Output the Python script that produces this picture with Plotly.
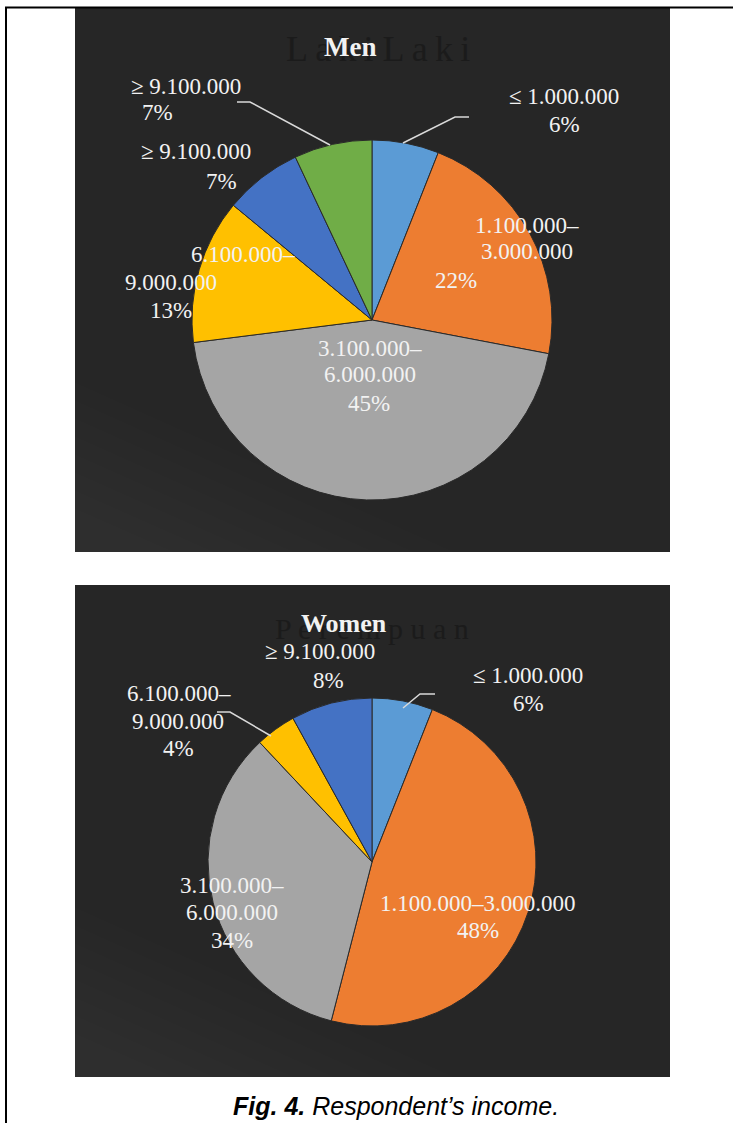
import plotly.graph_objects as go

W, H = 733, 1123

# ---------------- data ----------------
income_men = ["≤ 1.000.000", "1.100.000–3.000.000", "3.100.000–6.000.000",
              "6.100.000–9.000.000", "≥ 9.100.000", "≥ 9.100.000"]
share_men = [6, 22, 45, 13, 7, 7]
colors_men = ["#5B9BD5", "#ED7D31", "#A5A5A5", "#FFC000", "#4472C4", "#70AD47"]

income_women = ["≤ 1.000.000", "1.100.000–3.000.000", "3.100.000–6.000.000",
                "6.100.000–9.000.000", "≥ 9.100.000"]
share_women = [6, 48, 34, 4, 8]
colors_women = ["#5B9BD5", "#ED7D31", "#A5A5A5", "#FFC000", "#4472C4"]

title_men = "Men"
title_women = "Women"
ghost_men = "L\u2009a\u2009k\u2009i L\u2009a\u2009k\u2009i"
ghost_women = "P e r e m p u a n"
caption_bold = "Fig. 4."
caption_rest = "Respondent’s income."

# ---------------- layout helpers (pixel -> paper) ----------------
def fx(x):
    return x / W

def fy(y):
    return 1 - y / H

# label line positions (pixels) per slice; split = break category at the dash
men_label_pos = [
    dict(split=False, pts=[(564, 97), (564, 125)]),
    dict(split=True, pts=[(527, 225), (527, 251), (456, 280)]),
    dict(split=True, pts=[(370, 348), (370, 375), (369, 403)]),
    dict(split=True, pts=[(243, 255), (171, 282), (171, 310)]),
    dict(split=False, pts=[(196, 152), (222, 181)]),
    dict(split=False, pts=[(186, 86), (157, 112)]),
]
women_label_pos = [
    dict(split=False, pts=[(528, 675), (528, 703)]),
    dict(split=False, pts=[(478, 903), (478, 930)]),
    dict(split=True, pts=[(232, 885), (232, 912), (232, 940)]),
    dict(split=True, pts=[(179, 693), (178, 721), (178, 748)]),
    dict(split=False, pts=[(320, 651), (328, 680)]),
]

leaders = [
    [(237, 102), (250, 102), (330, 145)],
    [(469, 117), (455, 117), (403, 143)],
    [(435, 694), (420, 694), (403, 708)],
    [(217, 712), (230, 712), (271, 736)],
]

LABEL_FONT = dict(family="Liberation Serif, Times New Roman, serif", size=23, color="#F2F2F2")

fig = go.Figure()

def add_pie(values, cats, colors, cx, cy, r, name):
    fig.add_trace(go.Pie(
        labels=[f"{name}-{i}" for i in range(len(values))],
        values=values,
        hovertext=cats,
        hoverinfo="text+percent",
        sort=False,
        direction="clockwise",
        rotation=0,
        textinfo="none",
        marker=dict(colors=colors, line=dict(color="#2a2a2a", width=1)),
        domain=dict(x=[fx(cx - r), fx(cx + r)], y=[fy(cy + r), fy(cy - r)]),
        showlegend=False,
    ))

add_pie(share_men, income_men, colors_men, 372, 320, 180, "men")
add_pie(share_women, income_women, colors_women, 372, 862, 164, "women")

shapes = []
# dark panels with a very faint lighter glow in the lower-left corner
for (x0, y0, x1, y1) in [(75, 8, 670, 552), (75, 585, 670, 1077)]:
    shapes.append(dict(type="rect", xref="paper", yref="paper",
                       x0=fx(x0), x1=fx(x1), y0=fy(y1), y1=fy(y0),
                       fillcolor="#262626", line=dict(width=0), layer="below"))
    for k in range(8):
        dx = 380 - k * 40
        dy = 170 - k * 18
        p = (f"M {fx(x0)} {fy(y1)} L {fx(x0 + dx)} {fy(y1)} "
             f"L {fx(x0)} {fy(y1 - dy)} Z")
        shapes.append(dict(type="path", xref="paper", yref="paper", path=p,
                           fillcolor="rgba(255,255,255,0.006)", line=dict(width=0),
                           layer="below"))
# outer frame lines (left and top)
shapes.append(dict(type="path", xref="paper", yref="paper",
                   path=f"M {fx(6)} {fy(1123)} L {fx(6)} {fy(7.5)} L {fx(733)} {fy(7.5)}",
                   line=dict(color="black", width=2)))
# leader lines
for pts in leaders:
    p = "M " + " L ".join(f"{fx(x)} {fy(y)}" for x, y in pts)
    shapes.append(dict(type="path", xref="paper", yref="paper", path=p,
                       line=dict(color="#D9D9D9", width=1.5), layer="above"))

annotations = []

def ann(text, x, y, font, **kw):
    annotations.append(dict(text=text, x=fx(x), y=fy(y), xref="paper", yref="paper",
                            showarrow=False, xanchor="center", yanchor="middle",
                            font=font, **kw))

def add_labels(cats, values, positions):
    for cat, v, pos in zip(cats, values, positions):
        if pos["split"]:
            a, b = cat.split("–")
            lines = [a + "–", b, f"{v}%"]
        else:
            lines = [cat, f"{v}%"]
        for line, (x, y) in zip(lines, pos["pts"]):
            ann(line, x, y, LABEL_FONT)

# ghost titles (dark text behind)
ann(ghost_men, 378, 49, dict(family="Liberation Serif, serif", size=36, color="#1b1b1b"))
ann(ghost_women, 372, 628, dict(family="Liberation Serif, serif", size=30, color="#1b1b1b"))
# titles
ann(f"<b>{title_men}</b>", 350, 47, dict(family="Liberation Serif, serif", size=27, color="#F2F2F2"))
ann(f"<b>{title_women}</b>", 344, 623, dict(family="Liberation Serif, serif", size=26, color="#F2F2F2"))

add_labels(income_men, share_men, men_label_pos)
add_labels(income_women, share_women, women_label_pos)

# caption
ann(f"<b><i>{caption_bold}</i></b><i> {caption_rest}</i>", 396, 1106,
    dict(family="Liberation Sans, Arial, sans-serif", size=25, color="black"))

fig.update_layout(
    width=W, height=H,
    margin=dict(l=0, r=0, t=0, b=0),
    paper_bgcolor="white",
    plot_bgcolor="white",
    shapes=shapes,
    annotations=annotations,
)

fig.write_html("out.html")
